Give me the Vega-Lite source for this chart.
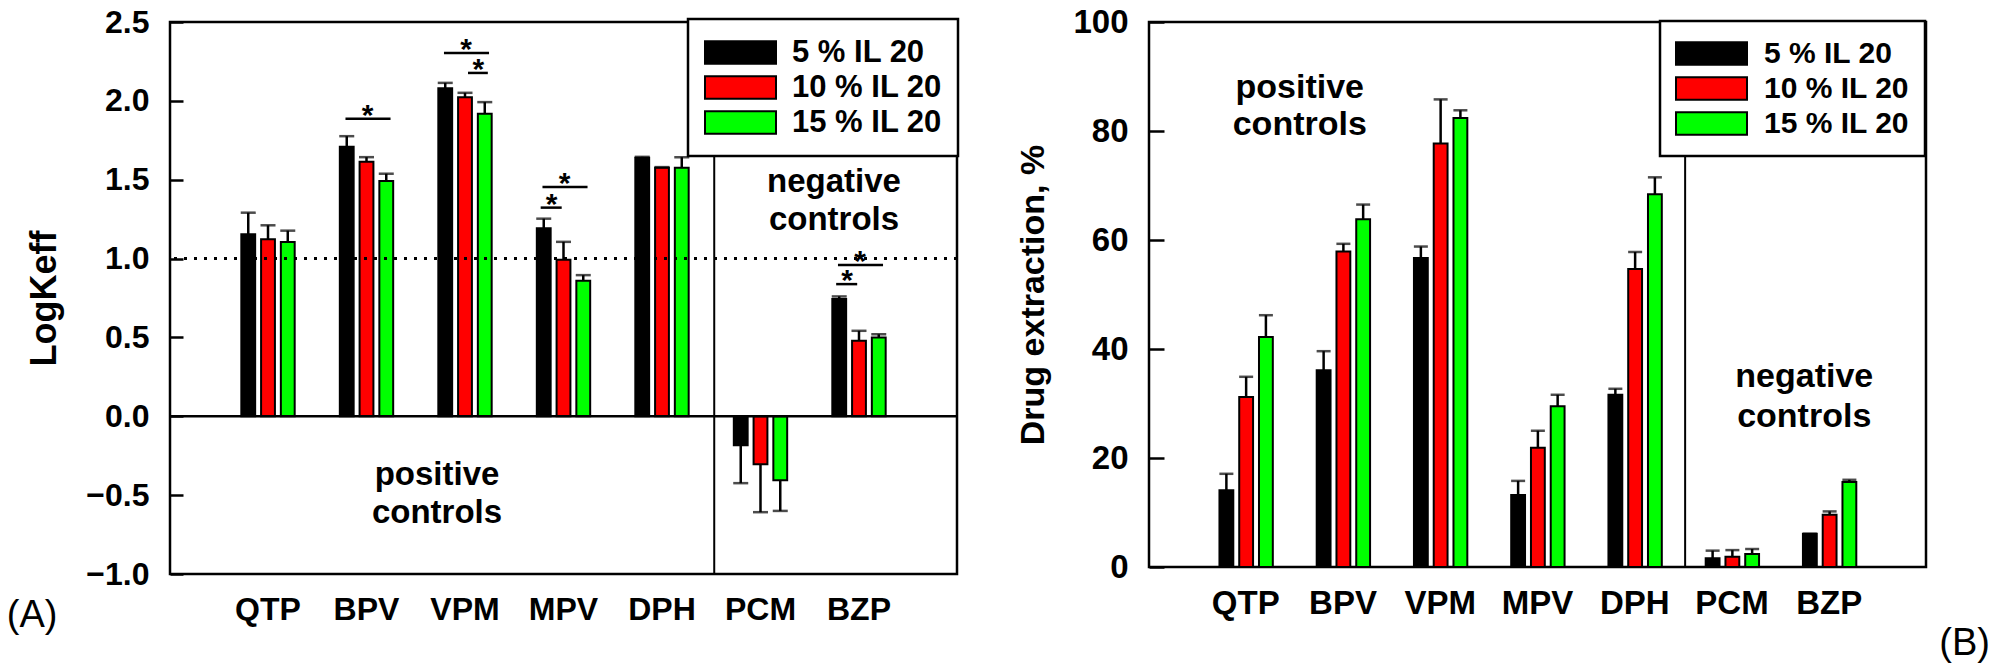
{
  "$schema": "https://vega.github.io/schema/vega-lite/v6.json",
  "background": "white",
  "padding": {"left": 5, "top": 4, "right": 0, "bottom": 0},
  "datasets": {
    "a": [
      {"drug": "QTP", "c": "5 % IL 20", "v": 1.154, "e": 1.291},
      {"drug": "QTP", "c": "10 % IL 20", "v": 1.122, "e": 1.211},
      {"drug": "QTP", "c": "15 % IL 20", "v": 1.105, "e": 1.177},
      {"drug": "BPV", "c": "5 % IL 20", "v": 1.709, "e": 1.776},
      {"drug": "BPV", "c": "10 % IL 20", "v": 1.614, "e": 1.643},
      {"drug": "BPV", "c": "15 % IL 20", "v": 1.492, "e": 1.538},
      {"drug": "VPM", "c": "5 % IL 20", "v": 2.08, "e": 2.114},
      {"drug": "VPM", "c": "10 % IL 20", "v": 2.023, "e": 2.051},
      {"drug": "VPM", "c": "15 % IL 20", "v": 1.918, "e": 1.992},
      {"drug": "MPV", "c": "5 % IL 20", "v": 1.192, "e": 1.253},
      {"drug": "MPV", "c": "10 % IL 20", "v": 0.992, "e": 1.106},
      {"drug": "MPV", "c": "15 % IL 20", "v": 0.859, "e": 0.895},
      {"drug": "DPH", "c": "5 % IL 20", "v": 1.639, "e": 1.645},
      {"drug": "DPH", "c": "10 % IL 20", "v": 1.576, "e": 1.58},
      {"drug": "DPH", "c": "15 % IL 20", "v": 1.576, "e": 1.643},
      {"drug": "PCM", "c": "5 % IL 20", "v": -0.184, "e": -0.424},
      {"drug": "PCM", "c": "10 % IL 20", "v": -0.304, "e": -0.608},
      {"drug": "PCM", "c": "15 % IL 20", "v": -0.405, "e": -0.6},
      {"drug": "BZP", "c": "5 % IL 20", "v": 0.743, "e": 0.76},
      {"drug": "BZP", "c": "10 % IL 20", "v": 0.479, "e": 0.542},
      {"drug": "BZP", "c": "15 % IL 20", "v": 0.5, "e": 0.52}
    ],
    "b": [
      {"drug": "QTP", "c": "5 % IL 20", "v": 14.1, "e": 17.1},
      {"drug": "QTP", "c": "10 % IL 20", "v": 31.2, "e": 34.9},
      {"drug": "QTP", "c": "15 % IL 20", "v": 42.2, "e": 46.2},
      {"drug": "BPV", "c": "5 % IL 20", "v": 36.1, "e": 39.6},
      {"drug": "BPV", "c": "10 % IL 20", "v": 57.9, "e": 59.3},
      {"drug": "BPV", "c": "15 % IL 20", "v": 63.8, "e": 66.5},
      {"drug": "VPM", "c": "5 % IL 20", "v": 56.7, "e": 58.8},
      {"drug": "VPM", "c": "10 % IL 20", "v": 77.7, "e": 85.8},
      {"drug": "VPM", "c": "15 % IL 20", "v": 82.4, "e": 83.8},
      {"drug": "MPV", "c": "5 % IL 20", "v": 13.2, "e": 15.8},
      {"drug": "MPV", "c": "10 % IL 20", "v": 21.9, "e": 25.0},
      {"drug": "MPV", "c": "15 % IL 20", "v": 29.5, "e": 31.6},
      {"drug": "DPH", "c": "5 % IL 20", "v": 31.6, "e": 32.7},
      {"drug": "DPH", "c": "10 % IL 20", "v": 54.7, "e": 57.8},
      {"drug": "DPH", "c": "15 % IL 20", "v": 68.4, "e": 71.5},
      {"drug": "PCM", "c": "5 % IL 20", "v": 1.6, "e": 3.0},
      {"drug": "PCM", "c": "10 % IL 20", "v": 1.9, "e": 3.1},
      {"drug": "PCM", "c": "15 % IL 20", "v": 2.4, "e": 3.3},
      {"drug": "BZP", "c": "5 % IL 20", "v": 6.1, "e": 6.1},
      {"drug": "BZP", "c": "10 % IL 20", "v": 9.6, "e": 10.2},
      {"drug": "BZP", "c": "15 % IL 20", "v": 15.6, "e": 16.0}
    ],
    "sig": [
      {"drug": "BPV", "y": 1.886, "kind": "long"},
      {"drug": "VPM", "y": 2.304, "kind": "long"},
      {"drug": "VPM", "y": 2.177, "kind": "right"},
      {"drug": "MPV", "y": 1.454, "kind": "long"},
      {"drug": "MPV", "y": 1.323, "kind": "left"},
      {"drug": "BZP", "y": 0.96, "kind": "long"},
      {"drug": "BZP", "y": 0.838, "kind": "left"}
    ],
    "one": [{}]
  },
  "hconcat": [
    {
      "width": 787,
      "height": 552,
      "title": {"text": "(A)", "orient": "bottom", "anchor": "start", "frame": "bounds", "fontSize": 38, "fontWeight": "normal", "dx": -20, "dy": -32},
      "layer": [
        {
          "data": {"name": "a"},
          "mark": {"type": "bar", "stroke": "#000", "strokeWidth": 2},
          "encoding": {
            "x": {"field": "drug", "type": "nominal", "scale": {"domain": ["QTP", "BPV", "VPM", "MPV", "DPH", "PCM", "BZP"], "paddingInner": 0.39, "paddingOuter": 0.69}, "axis": {"title": null, "ticks": false, "labelAngle": 0, "labelPadding": 20, "labelFontSize": 32}},
            "xOffset": {"field": "c", "type": "nominal", "scale": {"domain": ["5 % IL 20", "10 % IL 20", "15 % IL 20"], "paddingInner": 0.3, "paddingOuter": 0.17}},
            "y": {"field": "v", "type": "quantitative", "scale": {"domain": [-1, 2.5], "nice": false}, "axis": {"values": [-1, -0.5, 0, 0.5, 1, 1.5, 2, 2.5], "format": ".1f", "tickSize": -13, "tickWidth": 2.5, "labelPadding": 34, "labelFontSize": 32, "title": "LogKeff", "titleFontSize": 36, "titlePadding": 22}},
            "color": {"field": "c", "type": "nominal", "scale": {"domain": ["5 % IL 20", "10 % IL 20", "15 % IL 20"], "range": ["#000000", "#ff0000", "#00ff00"]},
              "legend": {"orient": "none", "legendX": 518, "legendY": -3, "title": null, "padding": 16, "labelFontSize": 31, "labelOffset": 15, "clipHeight": 35, "rowPadding": 0, "zindex": 1}}
          }
        },
        {
          "data": {"name": "a"},
          "mark": {"type": "rule", "color": "#000", "strokeWidth": 2.5},
          "encoding": {
            "x": {"field": "drug", "type": "nominal"},
            "xOffset": {"field": "c", "type": "nominal"},
            "y": {"field": "v", "type": "quantitative"},
            "y2": {"field": "e"}
          }
        },
        {
          "data": {"name": "a"},
          "mark": {"type": "tick", "orient": "horizontal", "color": "#000", "size": 15, "thickness": 2.5},
          "encoding": {
            "x": {"field": "drug", "type": "nominal"},
            "xOffset": {"field": "c", "type": "nominal"},
            "y": {"field": "e", "type": "quantitative"}
          }
        },
        {
          "data": {"name": "one"},
          "mark": {"type": "rule", "color": "#000", "strokeWidth": 2.5},
          "encoding": {"y": {"datum": 0}}
        },
        {
          "data": {"name": "one"},
          "mark": {"type": "rule", "color": "#000", "strokeWidth": 3, "strokeDash": [3, 7]},
          "encoding": {"y": {"datum": 1}}
        },
        {
          "data": {"name": "one"},
          "mark": {"type": "rule", "color": "#000", "strokeWidth": 2},
          "encoding": {"x": {"datum": "PCM", "bandPosition": -0.27}, "y": {"datum": -1}, "y2": {"datum": 1.7}}
        },
        {
          "data": {"name": "sig"},
          "transform": [{"filter": "datum.kind == 'long'"}],
          "mark": {"type": "rule", "color": "#000", "strokeWidth": 2.5},
          "encoding": {"x": {"field": "drug", "type": "nominal", "bandPosition": 0.15}, "x2": {"field": "drug", "bandPosition": 0.9}, "y": {"field": "y", "type": "quantitative"}}
        },
        {
          "data": {"name": "sig"},
          "transform": [{"filter": "datum.kind == 'left'"}],
          "mark": {"type": "rule", "color": "#000", "strokeWidth": 2.5},
          "encoding": {"x": {"field": "drug", "type": "nominal", "bandPosition": 0.12}, "x2": {"field": "drug", "bandPosition": 0.47}, "y": {"field": "y", "type": "quantitative"}}
        },
        {
          "data": {"name": "sig"},
          "transform": [{"filter": "datum.kind == 'right'"}],
          "mark": {"type": "rule", "color": "#000", "strokeWidth": 2.5},
          "encoding": {"x": {"field": "drug", "type": "nominal", "bandPosition": 0.55}, "x2": {"field": "drug", "bandPosition": 0.88}, "y": {"field": "y", "type": "quantitative"}}
        },
        {
          "data": {"name": "sig"},
          "transform": [{"filter": "datum.kind == 'long'"}],
          "mark": {"type": "text", "text": "*", "fontSize": 30, "fontWeight": "bold", "baseline": "alphabetic", "dy": 6},
          "encoding": {"x": {"field": "drug", "type": "nominal", "bandPosition": 0.52}, "y": {"field": "y", "type": "quantitative"}}
        },
        {
          "data": {"name": "sig"},
          "transform": [{"filter": "datum.kind == 'left'"}],
          "mark": {"type": "text", "text": "*", "fontSize": 30, "fontWeight": "bold", "baseline": "alphabetic", "dy": 6},
          "encoding": {"x": {"field": "drug", "type": "nominal", "bandPosition": 0.3}, "y": {"field": "y", "type": "quantitative"}}
        },
        {
          "data": {"name": "sig"},
          "transform": [{"filter": "datum.kind == 'right'"}],
          "mark": {"type": "text", "text": "*", "fontSize": 30, "fontWeight": "bold", "baseline": "alphabetic", "dy": 6},
          "encoding": {"x": {"field": "drug", "type": "nominal", "bandPosition": 0.72}, "y": {"field": "y", "type": "quantitative"}}
        },
        {
          "data": {"name": "one"},
          "mark": {"type": "text", "fontSize": 33, "fontWeight": "bold", "lineHeight": 38, "baseline": "middle", "dx": -28},
          "encoding": {"x": {"datum": "VPM"}, "y": {"datum": -0.373}, "text": {"value": ["positive", "controls"]}}
        },
        {
          "data": {"name": "one"},
          "mark": {"type": "text", "fontSize": 33, "fontWeight": "bold", "lineHeight": 38, "baseline": "middle", "dx": -25},
          "encoding": {"x": {"datum": "BZP"}, "y": {"datum": 1.487}, "text": {"value": ["negative", "controls"]}}
        }
      ]
    },
    {
      "width": 777,
      "height": 545,
      "title": {"text": "(B)", "orient": "bottom", "anchor": "end", "frame": "group", "fontSize": 38, "fontWeight": "normal", "dx": 64, "dy": 1},
      "layer": [
        {
          "data": {"name": "b"},
          "mark": {"type": "bar", "stroke": "#000", "strokeWidth": 2},
          "encoding": {
            "x": {"field": "drug", "type": "nominal", "scale": {"domain": ["QTP", "BPV", "VPM", "MPV", "DPH", "PCM", "BZP"], "paddingInner": 0.39, "paddingOuter": 0.69}, "axis": {"title": null, "ticks": false, "labelAngle": 0, "labelPadding": 20, "labelFontSize": 33}},
            "xOffset": {"field": "c", "type": "nominal", "scale": {"domain": ["5 % IL 20", "10 % IL 20", "15 % IL 20"], "paddingInner": 0.32, "paddingOuter": 0.17}},
            "y": {"field": "v", "type": "quantitative", "scale": {"domain": [0, 100], "nice": false}, "axis": {"values": [0, 20, 40, 60, 80, 100], "tickSize": -15, "tickWidth": 2.5, "labelPadding": 36, "labelFontSize": 33, "title": "Drug extraction, %", "titleFontSize": 34, "titlePadding": 22}},
            "color": {"field": "c", "type": "nominal", "scale": {"domain": ["5 % IL 20", "10 % IL 20", "15 % IL 20"], "range": ["#000000", "#ff0000", "#00ff00"]},
              "legend": {"orient": "none", "legendX": 511, "legendY": -1, "title": null, "padding": 15, "labelFontSize": 30, "labelOffset": 16, "clipHeight": 35, "rowPadding": 0, "zindex": 1}}
          }
        },
        {
          "data": {"name": "b"},
          "mark": {"type": "rule", "color": "#000", "strokeWidth": 2.5},
          "encoding": {
            "x": {"field": "drug", "type": "nominal"},
            "xOffset": {"field": "c", "type": "nominal"},
            "y": {"field": "v", "type": "quantitative"},
            "y2": {"field": "e"}
          }
        },
        {
          "data": {"name": "b"},
          "mark": {"type": "tick", "orient": "horizontal", "color": "#000", "size": 14, "thickness": 2.5},
          "encoding": {
            "x": {"field": "drug", "type": "nominal"},
            "xOffset": {"field": "c", "type": "nominal"},
            "y": {"field": "e", "type": "quantitative"}
          }
        },
        {
          "data": {"name": "one"},
          "mark": {"type": "rule", "color": "#000", "strokeWidth": 2},
          "encoding": {"x": {"datum": "PCM", "bandPosition": -0.29}, "y": {"datum": 0}, "y2": {"datum": 76}}
        },
        {
          "data": {"name": "one"},
          "mark": {"type": "text", "fontSize": 34, "fontWeight": "bold", "lineHeight": 37, "baseline": "middle", "dx": 54},
          "encoding": {"x": {"datum": "QTP"}, "y": {"datum": 87.9}, "text": {"value": ["positive", "controls"]}}
        },
        {
          "data": {"name": "one"},
          "mark": {"type": "text", "fontSize": 34, "fontWeight": "bold", "lineHeight": 40, "baseline": "middle", "dx": -25},
          "encoding": {"x": {"datum": "BZP"}, "y": {"datum": 34.9}, "text": {"value": ["negative", "controls"]}}
        }
      ]
    }
  ],
  "spacing": 54,
  "resolve": {"scale": {"color": "independent"}, "legend": {"color": "independent"}},
  "config": {
    "font": "Liberation Sans",
    "view": {"stroke": "#000", "strokeWidth": 2.5},
    "axis": {"domain": false, "grid": false, "labelColor": "#000", "labelFontWeight": "bold", "tickColor": "#000", "titleColor": "#000", "titleFontWeight": "bold"},
    "legend": {"fillColor": "#ffffff", "strokeColor": "#000", "strokeWidth": 2.5, "labelColor": "#000", "labelFontWeight": "bold", "labelLimit": 400, "symbolType": "M-1,-0.32H1V0.32H-1Z", "symbolSize": 5041, "symbolStrokeColor": "#000", "symbolStrokeWidth": 2, "symbolOpacity": 1},
    "title": {"color": "#000", "font": "Liberation Sans"},
    "text": {"color": "#000"}
  }
}
